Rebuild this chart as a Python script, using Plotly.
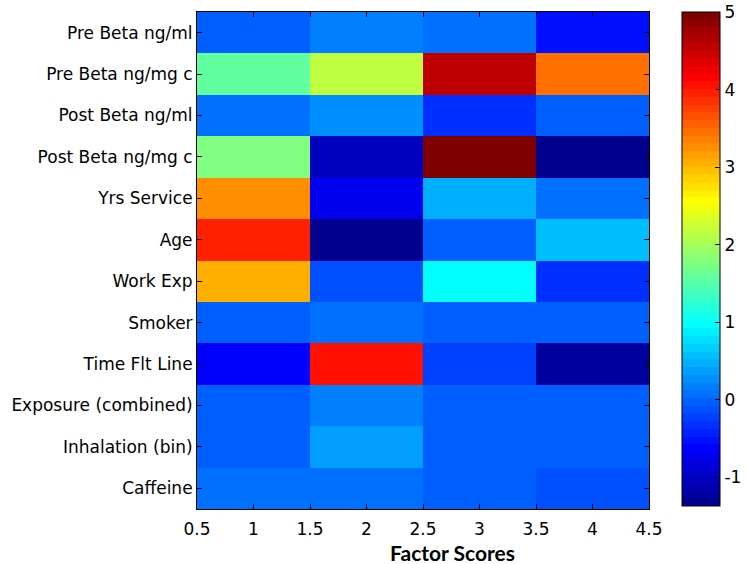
import plotly.graph_objects as go

# ---- data ----
factors = [1, 2, 3, 4]
variables = [
    "Pre Beta ng/ml", "Pre Beta ng/mg c", "Post Beta ng/ml", "Post Beta ng/mg c",
    "Yrs Service", "Age", "Work Exp", "Smoker", "Time Flt Line",
    "Exposure (combined)", "Inhalation (bin)", "Caffeine",
]
scores = [
    [-0.03, 0.17, 0.07, -0.53],
    [1.57, 2.16, 4.55, 3.46],
    [0.10, 0.27, -0.33, -0.03],
    [1.76, -1.02, 5.00, -1.32],
    [3.26, -0.72, 0.47, 0.07],
    [3.96, -1.37, -0.03, 0.57],
    [3.06, -0.13, 0.97, -0.33],
    [-0.03, 0.12, -0.03, -0.03],
    [-0.63, 4.06, -0.23, -1.22],
    [-0.03, 0.17, -0.03, -0.03],
    [-0.03, 0.37, -0.03, -0.03],
    [0.12, 0.03, -0.03, -0.13],
]
x_tick_vals = [0.5, 1, 1.5, 2, 2.5, 3, 3.5, 4, 4.5]
x_tick_text = ["0.5", "1", "1.5", "2", "2.5", "3", "3.5", "4", "4.5"]
cb_tick_vals = [-1, 0, 1, 2, 3, 4, 5]
cb_tick_text = ["-1", "0", "1", "2", "3", "4", "5"]
z_min, z_max = -1.37, 5.0


# ---- MATLAB-style jet(64) stepped colorscale ----
def jet64():
    cols = []
    for k in range(1, 65):
        if k <= 8:
            r, g, b = 0, 0, 0.5 + k / 16
        elif k <= 24:
            r, g, b = 0, (k - 8) / 16, 1
        elif k <= 40:
            r, g, b = (k - 24) / 16, 1, (40 - k) / 16
        elif k <= 56:
            r, g, b = 1, (56 - k) / 16, 0
        else:
            r, g, b = (72 - k) / 16, 0, 0
        cols.append("rgb(%d,%d,%d)" % (round(r * 255), round(g * 255), round(b * 255)))
    scale = []
    for i, c in enumerate(cols):
        scale.append([i / 64, c])
        scale.append([(i + 1) / 64, c])
    return scale


font_main = dict(family="DejaVu Sans", size=17, color="black")

fig = go.Figure(
    go.Heatmap(
        x=factors,
        y=variables,
        z=scores,
        zmin=z_min,
        zmax=z_max,
        colorscale=jet64(),
        xgap=0,
        ygap=0,
        colorbar=dict(
            x=(682 - 197) / 452,
            xanchor="left",
            xpad=0,
            y=1,
            yanchor="top",
            ypad=0,
            len=494,
            lenmode="pixels",
            thickness=38,
            thicknessmode="pixels",
            outlinewidth=1,
            outlinecolor="black",
            tickmode="array",
            tickvals=cb_tick_vals,
            ticktext=cb_tick_text,
            ticks="inside",
            ticklen=5,
            tickwidth=1,
            tickcolor="black",
            tickfont=font_main,
        ),
        hoverinfo="x+y+z",
    )
)

fig.update_layout(
    width=747,
    height=564,
    margin=dict(l=197, r=98, t=12, b=55, autoexpand=False),
    paper_bgcolor="white",
    plot_bgcolor="white",
    font=font_main,
    xaxis=dict(
        range=[0.5, 4.5],
        tickmode="array",
        tickvals=x_tick_vals,
        ticktext=x_tick_text,
        ticks="inside",
        ticklen=5,
        tickwidth=1,
        tickcolor="black",
        ticklabelstandoff=5,
        showline=True,
        linecolor="black",
        linewidth=1,
        mirror="ticks",
        showgrid=False,
        zeroline=False,
        tickfont=font_main,
    ),
    yaxis=dict(
        autorange="reversed",
        ticks="inside",
        ticklen=5,
        tickwidth=1,
        tickcolor="black",
        showline=True,
        linecolor="black",
        linewidth=1,
        mirror="ticks",
        showgrid=False,
        zeroline=False,
        tickfont=font_main,
    ),
    annotations=[
        dict(
            text="<b>Factor Scores</b>",
            x=(452 - 197) / 452,
            y=(509 - 552) / 497,
            xref="paper",
            yref="paper",
            xanchor="center",
            yanchor="middle",
            showarrow=False,
            font=dict(family="Lato", size=21, color="black"),
        )
    ],
)

fig.write_html("out.html")
